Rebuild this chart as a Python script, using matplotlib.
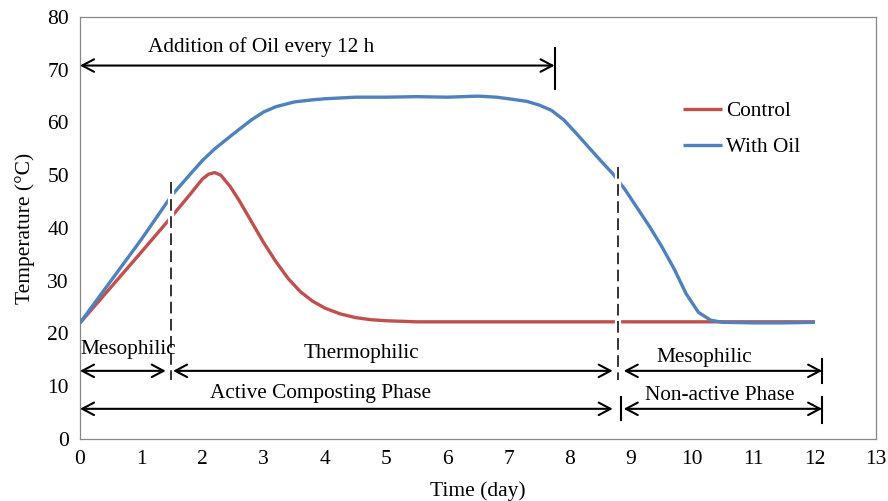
import matplotlib
matplotlib.use("Agg")
import matplotlib.pyplot as plt
from matplotlib.patches import FancyArrowPatch

plt.rcParams["font.family"] = ["Liberation Serif", "DejaVu Serif"]

ctrl_x = [0, 0.5, 1.0, 1.5, 1.8, 2.0, 2.1, 2.2, 2.3, 2.45, 2.6, 2.8, 3.0,
          3.2, 3.4, 3.6, 3.8, 4.0, 4.25, 4.5, 4.75, 5.0, 5.5, 6, 7, 8, 9,
          10, 11, 12]
ctrl_y = [22.0, 28.7, 35.4, 42.2, 46.4, 49.3, 50.2, 50.5, 50.0, 47.9, 45.2,
          41.2, 37.2, 33.6, 30.4, 27.9, 26.1, 24.8, 23.7, 23.0, 22.6, 22.4,
          22.2, 22.2, 22.2, 22.2, 22.2, 22.2, 22.2, 22.2]
oil_x = [0, 0.5, 1.0, 1.5, 1.8, 2.0, 2.2, 2.5, 2.8, 3.0, 3.2, 3.5, 3.8, 4.0,
         4.5, 5.0, 5.5, 6.0, 6.5, 6.8, 7.0, 7.3, 7.5, 7.7, 7.9, 8.1, 8.3,
         8.5, 8.7, 8.9, 9.1, 9.3, 9.5, 9.7, 9.9, 10.1, 10.3, 10.5, 11.0,
         11.5, 12.0]
oil_y = [22.0, 29.9, 37.8, 46.2, 50.2, 52.8, 55.0, 57.8, 60.5, 62.0, 63.0,
         63.9, 64.3, 64.5, 64.8, 64.8, 64.9, 64.8, 65.0, 64.8, 64.5, 64.0,
         63.3, 62.3, 60.5, 58.0, 55.4, 52.8, 50.3, 47.3, 43.8, 40.3, 36.5,
         32.3, 27.5, 24.0, 22.5, 22.1, 22.0, 22.0, 22.1]

# phase arrows: (x_start, x_end, y, label, label_x, label_y)
phase_arrows = [
    (0.0, 7.75, 70.8, "Addition of Oil every 12 h", 2.95, 74.3),
    (0.0, 1.40, 12.9, "Mesophilic", 0.0, 17.0),
    (1.52, 8.70, 12.9, "Thermophilic", 4.6, 16.1),
    (8.88, 12.12, 12.9, "Mesophilic", 10.2, 15.4),
    (0.0, 8.70, 5.7, "Active Composting Phase", 3.92, 8.6),
    (8.88, 12.12, 5.7, "Non-active Phase", 10.45, 8.2),
]
# short end bars: (x, y0, y1)
end_bars = [(7.75, 66.4, 74.2), (12.12, 10.6, 15.1), (8.83, 3.6, 8.0),
            (12.12, 3.0, 7.9)]
# dashed phase boundaries: (x, y_top, y_bottom)
boundaries = [(1.49, 48.7, 11.2), (8.79, 51.6, 11.2)]

fig = plt.figure(figsize=(8.88, 5.01), dpi=100)
ax = fig.add_axes([0.0901, 0.124, 0.8964, 0.842])

ax.plot(ctrl_x, ctrl_y, color="#C0504D", lw=2.4, label="Control",
        solid_capstyle="butt", zorder=3)
ax.plot(oil_x, oil_y, color="#4F81BD", lw=2.4, label="With Oil",
        solid_capstyle="butt", zorder=4)

for x, yt, yb in boundaries:
    # white gap where the boundary crosses the curves
    ax.plot([x, x], [yt, 19], color="white", lw=4.5, zorder=5)
    ax.plot([x, x], [yt, yb], color="#333333", lw=1.4, zorder=6,
            dashes=(6, 2.8))

for x0, x1, y, txt, tx, ty in phase_arrows:
    ax.add_patch(FancyArrowPatch(
        (x0, y), (x1, y),
        arrowstyle="<->,head_length=0.85,head_width=0.45",
        mutation_scale=10, shrinkA=0, shrinkB=0, lw=1.5, color="black",
        zorder=7))
    ha = "left" if txt == "Mesophilic" and tx == 0.0 else "center"
    ax.text(tx, ty, txt, ha=ha, va="center", fontsize=15.3, zorder=8)

for x, y0, y1 in end_bars:
    ax.plot([x, x], [y0, y1], color="black", lw=1.5, zorder=7)

ax.set_xlim(0, 13)
ax.set_ylim(0, 80)
ax.set_xticks(range(0, 14))
ax.set_yticks(range(0, 81, 10))
ax.tick_params(length=0, labelsize=15.5, pad=8)
for s in ax.spines.values():
    s.set_color("#888888")
    s.set_linewidth(0.9)

ax.set_xlabel("Time (day)", fontsize=15.5, labelpad=9)
ax.set_ylabel("Temperature (°C)", fontsize=15.5, labelpad=9)

ax.legend(loc="upper left", bbox_to_anchor=(0.757, 0.80), frameon=False,
          fontsize=15.3, handlelength=1.85, handletextpad=0.2,
          labelspacing=0.75, borderpad=0, borderaxespad=0)

fig.savefig("out.png", dpi=100)
